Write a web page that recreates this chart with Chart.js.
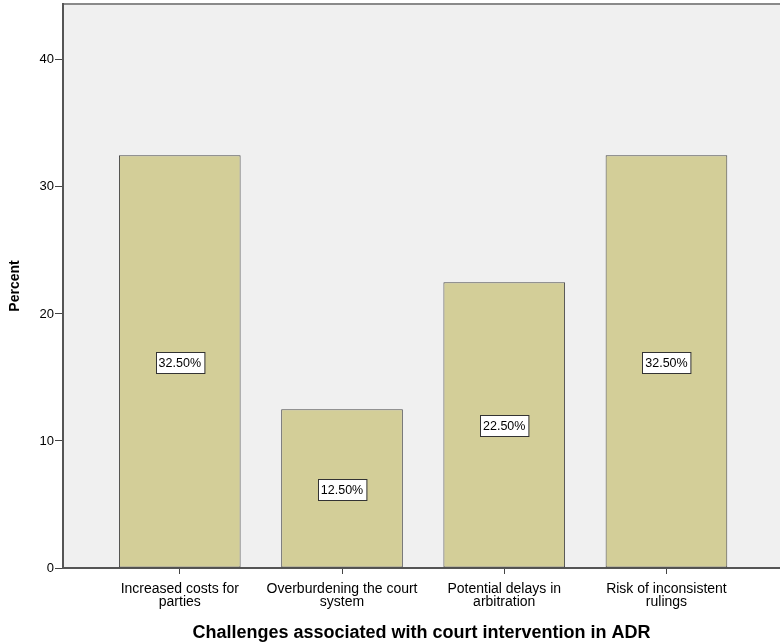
<!DOCTYPE html>
<html>
<head>
<meta charset="utf-8">
<script src="https://cdn.jsdelivr.net/npm/chart.js@4"></script>
<style>
  html, body { margin: 0; padding: 0; background: #fff; }
  #wrap { width: 780px; height: 644px; }
</style>
</head>
<body>
<div id="wrap"><canvas id="chart"></canvas></div>
<script>
// data
const categories = [
  ["Increased costs for", "parties"],
  ["Overburdening the court", "system"],
  ["Potential delays in", "arbitration"],
  ["Risk of inconsistent", "rulings"]
];
const percents = [32.5, 12.5, 22.5, 32.5];
const yTicks = [0, 10, 20, 30, 40];

const FONT = "'Liberation Sans', Arial, sans-serif";

// grey plot background
const plotBg = {
  id: "plotBg",
  beforeDraw(chart) {
    const { ctx, chartArea: a } = chart;
    ctx.save();
    ctx.fillStyle = "#f0f0f0";
    ctx.fillRect(a.left, a.top, a.right - a.left, a.bottom - a.top);
    ctx.strokeStyle = "#8a8a8a";
    ctx.lineWidth = 2;
    ctx.beginPath();
    ctx.moveTo(a.left, a.top);
    ctx.lineTo(a.right, a.top);
    ctx.stroke();
    ctx.restore();
  }
};

// boxed value labels in the middle of each bar
const boxLabels = {
  id: "boxLabels",
  afterDatasetsDraw(chart) {
    const { ctx } = chart;
    const meta = chart.getDatasetMeta(0);
    ctx.save();
    ctx.font = "12.5px " + FONT;
    ctx.textAlign = "center";
    ctx.textBaseline = "middle";
    meta.data.forEach((bar, i) => {
      const txt = percents[i].toFixed(2) + "%";
      const cy = (bar.y + bar.base) / 2;
      const w = ctx.measureText(txt).width + 6;
      const h = 21;
      const x0 = Math.round(bar.x - w / 2) + 0.5;
      const y0 = Math.round(cy - h / 2 + 1) + 0.5;
      ctx.fillStyle = "#fff";
      ctx.fillRect(x0, y0, w, h);
      ctx.strokeStyle = "#333";
      ctx.lineWidth = 1;
      ctx.strokeRect(x0, y0, w, h);
      ctx.fillStyle = "#000";
      ctx.fillText(txt, bar.x, cy + 2);
    });
    ctx.restore();
  }
};

new Chart(document.getElementById("chart"), {
  type: "bar",
  data: {
    datasets: [{
      data: percents.map((v, i) => ({ x: i, y: v })),
      backgroundColor: "#d3ce98",
      borderColor: "#4a4a4a",
      borderWidth: 1,
      borderSkipped: false,
      barPercentage: 0.75,
      categoryPercentage: 1
    }]
  },
  options: {
    responsive: true,
    maintainAspectRatio: false,
    animation: false,
    layout: { padding: { top: 4, right: 0, left: 0, bottom: 0 } },
    plugins: { legend: { display: false }, tooltip: { enabled: false } },
    scales: {
      x: {
        type: "linear",
        offset: false,
        min: -0.72,
        max: 3.7,
        afterBuildTicks: s => { s.ticks = categories.map((_, i) => ({ value: i })); },
        afterFit: s => { s.height = 76; s.paddingLeft = 0; s.paddingRight = 0; },
        ticks: {
          callback: v => categories[v],
          color: "#000",
          font: { family: FONT, size: 14, lineHeight: 0.95 },
          padding: 8,
          maxRotation: 0,
          autoSkip: false
        },
        grid: { display: true, offset: false, drawOnChartArea: false, drawTicks: true, tickLength: 6, color: "#444" },
        border: { display: true, color: "#555", width: 2 },
        title: {
          display: true,
          text: "Challenges associated with court intervention in ADR",
          color: "#000",
          font: { family: FONT, size: 18, weight: "bold" },
          padding: { top: 8, bottom: 0 }
        }
      },
      y: {
        min: 0,
        max: 44.4,
        afterBuildTicks: s => { s.ticks = yTicks.map(v => ({ value: v })); },
        afterFit: s => { s.width = 63; s.paddingTop = 0; s.paddingBottom = 0; },
        ticks: {
          color: "#000",
          font: { family: FONT, size: 13 },
          padding: 1
        },
        grid: { display: true, drawOnChartArea: false, drawTicks: true, tickLength: 8, color: "#444" },
        border: { display: true, color: "#555", width: 2 },
        title: {
          display: true,
          text: "Percent",
          color: "#000",
          font: { family: FONT, size: 14, weight: "bold" },
          padding: { top: 7, bottom: 0 }
        }
      }
    }
  },
  plugins: [plotBg, boxLabels]
});
</script>
</body>
</html>
